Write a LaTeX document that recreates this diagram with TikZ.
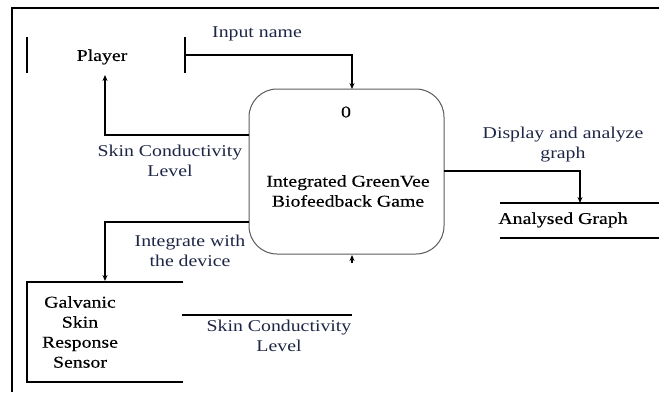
\documentclass[tikz,border=0pt]{standalone}
\usepackage{fontspec}
\setmainfont{Liberation Serif}[FakeStretch=1.2]
\newfontfamily\nodefont{Liberation Serif}[FakeStretch=1.2, FakeBold=0.35]
\usetikzlibrary{arrows.meta}
\definecolor{flowtext}{RGB}{30,38,70}
\definecolor{procline}{RGB}{90,90,90}
\tikzset{
  x=1pt, y=-1pt,
  txt/.style={font=\nodefont\fontsize{16.5}{20}\selectfont, align=center, inner sep=0pt},
  flowlbl/.style={font=\fontsize{16.5}{20}\selectfont, align=center, inner sep=0pt, text=flowtext},
  flow/.style={line width=1.1pt, -{Stealth[length=6pt,width=5pt]}},
  storeline/.style={line width=1.2pt},
  frameline/.style={line width=2.6pt},
}
\begin{document}
\begin{tikzpicture}
\useasboundingbox (0,0) rectangle (659,392);
% frame
\draw[frameline] (12,392) -- (12,8) -- (659,8);
% process
\node[draw=procline, line width=1pt, rounded corners=28pt, minimum width=195pt, minimum height=165pt, inner sep=0pt] (proc) at (346.5,171.5) {};
\node[txt] (pnum) at (346,112) {0};
\node[txt, text=black] (pname) at (348,191) {Integrated GreenVee\\Biofeedback Game};
% Player store
\node[txt] (player) at (102,57) {Player};
\coordinate (plL1) at (27,37); \coordinate (plL2) at (27,73);
\coordinate (plR1) at (185,37); \coordinate (plR2) at (185,73);
\draw[storeline] (plL1) -- (plL2);
\draw[storeline] (plR1) -- (plR2);
% Input name flow
\coordinate (inS) at (185,55);
\coordinate (inE) at (352,89);
\draw[flow] (inS) -| (inE);
\node[flowlbl] (inlbl) at (257,34) {Input name};
% Skin conductivity to player
\coordinate (skS) at (249,135);
\coordinate (skE) at (105,75);
\draw[flow] (skS) -| (skE);
\node[flowlbl] (sklbl) at (170,161) {Skin Conductivity\\Level};
% Integrate with the device
\coordinate (igS) at (249,222);
\coordinate (igE) at (105,281);
\draw[flow] (igS) -| (igE);
\node[flowlbl] (iglbl) at (190,251) {Integrate with\\the device};
% GSR store
\node[txt] (gsr) at (80,332) {Galvanic\\Skin\\Response\\Sensor};
\coordinate (gA) at (183,282); \coordinate (gB) at (27,282);
\coordinate (gC) at (27,382); \coordinate (gD) at (183,382);
\draw[storeline] (gA) -- (gB) -- (gC) -- (gD);
% Skin conductivity level (second)
\coordinate (s2A) at (182,315); \coordinate (s2B) at (352,315);
\draw[storeline] (s2A) -- (s2B);
\node[flowlbl] (s2lbl) at (279,336) {Skin Conductivity\\Level};
\coordinate (upS) at (352,263); \coordinate (upE) at (352,255);
\draw[flow] (upS) -- (upE);
% Display and analyze graph
\coordinate (dpS) at (444,171);
\coordinate (dpE) at (580,203);
\draw[flow] (dpS) -| (dpE);
\node[flowlbl] (dplbl) at (563,145) {Display and analyze\\graph};
% Analysed Graph store
\node[txt] (ag) at (563,220) {Analysed Graph};
\coordinate (agA) at (500,203); \coordinate (agB) at (659,203);
\coordinate (agC) at (500,238); \coordinate (agD) at (659,238);
\draw[storeline] (agA) -- (agB);
\draw[storeline] (agC) -- (agD);
\end{tikzpicture}
\end{document}
